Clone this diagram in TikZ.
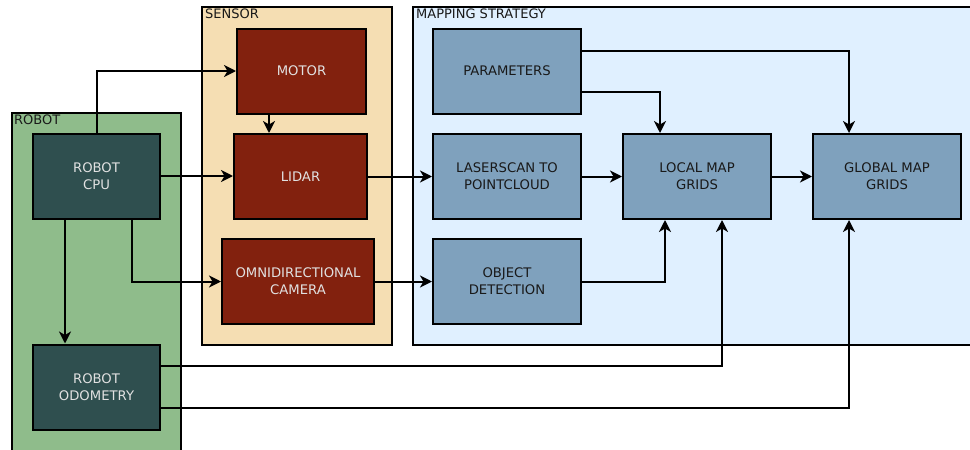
\documentclass[tikz,border=0pt]{standalone}
\usepackage{fontspec}
\setmainfont{DejaVu Sans}
\usetikzlibrary{arrows.meta}
\definecolor{robotbg}{RGB}{143,188,139}
\definecolor{robotbox}{RGB}{47,79,79}
\definecolor{sensorbg}{RGB}{245,222,179}
\definecolor{sensorbox}{RGB}{130,33,14}
\definecolor{mapbg}{RGB}{224,240,255}
\definecolor{mapbox}{RGB}{127,161,189}
\definecolor{lighttext}{RGB}{225,225,225}
\definecolor{darktext}{RGB}{25,25,25}
\begin{document}
\begin{tikzpicture}[x=1pt,y=-1pt,
  every node/.style={font=\fontsize{13.2}{17}\selectfont, align=center, inner sep=0pt},
  container/.style={draw=black, line width=2pt},
  blk/.style={draw=black, line width=2pt, minimum width=#1, minimum height=85pt},
  rbox/.style={blk=127pt, fill=robotbox, text=lighttext},
  sbox/.style={fill=sensorbox, text=lighttext, draw=black, line width=2pt, minimum height=85pt},
  mbox/.style={blk=148pt, fill=mapbox, text=darktext},
  title/.style={anchor=north west, text=darktext, font=\fontsize{13}{15}\selectfont},
  conn/.style={line width=2pt, -{Stealth[length=12pt,width=12pt,inset=3.5pt]}}]
\useasboundingbox (0,0) rectangle (970,450);
\clip (0,0) rectangle (970,450);
\fill[white] (0,0) rectangle (970,450);
% containers
\draw[container, fill=robotbg] (12,113) rectangle (181,460);
\node[title] (trobot) at (14,115) {ROBOT};
\draw[container, fill=sensorbg] (202,7) rectangle (392,345);
\node[title] (tsensor) at (205,9) {SENSOR};
\draw[container, fill=mapbg] (412.5,7) rectangle (980,345);
\node[title] (tmap) at (416,9) {MAPPING STRATEGY};
% nodes
\node[rbox] (cpu) at (96.5,176) {ROBOT\\CPU};
\node[rbox] (odom) at (96.5,387) {ROBOT\\ODOMETRY};
\node[sbox, minimum width=129pt] (motor) at (301.5,71) {MOTOR};
\node[sbox, minimum width=133pt] (lidar) at (300.5,176.5) {LIDAR};
\node[sbox, minimum width=152pt] (omni) at (298,281.5) {OMNIDIRECTIONAL\\CAMERA};
\node[mbox] (params) at (507,71) {PARAMETERS};
\node[mbox] (laser) at (507,176.5) {LASERSCAN TO\\POINTCLOUD};
\node[mbox] (object) at (507,281.5) {OBJECT\\DETECTION};
\node[mbox] (local) at (697,176.5) {LOCAL MAP\\GRIDS};
\node[mbox] (global) at (887,176.5) {GLOBAL MAP\\GRIDS};
% connectors
\draw[conn] (cpu.north) |- (motor.west);
\draw[conn] (cpu.east) -- (cpu.east -| lidar.west);
\draw[conn] ([xshift=35.5pt]cpu.south) |- (omni.west);
\draw[conn] ([xshift=-31.5pt]cpu.south) -- ([xshift=-31.5pt]odom.north);
\draw[conn] ([xshift=-32.5pt]motor.south) -- ([xshift=-32.5pt]motor.south |- lidar.north);
\draw[conn] (lidar.east) -- (laser.west);
\draw[conn] (omni.east) -- (object.west);
\draw[conn] (laser.east) -- (local.west);
\draw[conn] (local.east) -- (global.west);
\draw[conn] ([yshift=20pt]params.east) -| ([xshift=-38pt]global.north);
\draw[conn] ([yshift=-21pt]params.east) -| ([xshift=-37pt]local.north);
\draw[conn] (object.east) -| ([xshift=-32pt]local.south);
\draw[conn] ([yshift=21pt]odom.east) -| ([xshift=25pt]local.south);
\draw[conn] ([yshift=-21pt]odom.east) -| ([xshift=-38pt]global.south);
\end{tikzpicture}
\end{document}
